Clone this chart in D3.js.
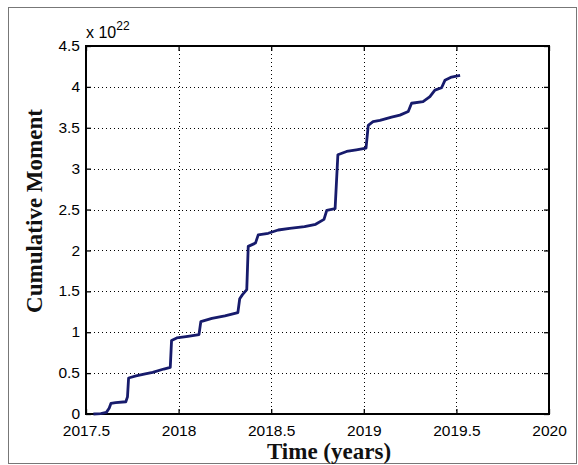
<!DOCTYPE html>
<html>
<head>
<meta charset="utf-8">
<script src="https://cdn.jsdelivr.net/npm/d3@7/dist/d3.min.js"></script>
<style>
  body { margin: 0; background: #fff; }
  .tick text { font-family: "Liberation Sans", Arial, sans-serif; font-size: 15.5px; fill: #000; }
  .label { font-family: "Liberation Serif", "Times New Roman", serif; font-weight: bold; font-size: 23px; fill: #111; }
</style>
</head>
<body>
<svg width="578" height="465"></svg>
<script>
// time (years) and cumulative moment (x 1e22)
let times = [2017.54, 2017.58, 2017.61, 2017.625, 2017.635, 2017.66, 2017.715, 2017.724, 2017.73, 2017.77,
    2017.82, 2017.86, 2017.92, 2017.955, 2017.962, 2017.99, 2018.05, 2018.11, 2018.12, 2018.18,
    2018.25, 2018.32, 2018.33, 2018.345, 2018.368, 2018.376, 2018.415, 2018.43, 2018.484, 2018.538,
    2018.6, 2018.68, 2018.74, 2018.785, 2018.80, 2018.845, 2018.86, 2018.907, 2018.96, 2019.012,
    2019.024, 2019.05, 2019.087, 2019.15, 2019.195, 2019.24, 2019.258, 2019.32, 2019.357, 2019.384,
    2019.42, 2019.438, 2019.474, 2019.52];
let moment = [0, 0.005, 0.02, 0.07, 0.13, 0.14, 0.15, 0.21, 0.44, 0.465,
    0.49, 0.51, 0.55, 0.57, 0.90, 0.93, 0.95, 0.97, 1.13, 1.17,
    1.20, 1.24, 1.41, 1.46, 1.52, 2.05, 2.09, 2.19, 2.21, 2.25,
    2.27, 2.29, 2.32, 2.38, 2.49, 2.51, 3.17, 3.21, 3.23, 3.25,
    3.53, 3.575, 3.59, 3.63, 3.655, 3.70, 3.80, 3.82, 3.88, 3.96,
    3.99, 4.08, 4.12, 4.14];
let xTicks = [2017.5, 2018, 2018.5, 2019, 2019.5, 2020];
let yTicks = [0, 0.5, 1, 1.5, 2, 2.5, 3, 3.5, 4, 4.5];

let svg = d3.select("svg");
let pLeft = 86, pTop = 46, pRight = 549, pBottom = 414;

// outer figure frame
svg.append("rect")
    .attr("x", 8.5).attr("y", 7.5)
    .attr("width", 568).attr("height", 456)
    .attr("fill", "none").attr("stroke", "#777").attr("stroke-width", 1);

let x = d3.scaleLinear().domain([2017.5, 2020]).range([pLeft, pRight]);
let y = d3.scaleLinear().domain([0, 4.5]).range([pBottom, pTop]);

// dotted grid
let grid = svg.append("g").attr("stroke", "#000").attr("stroke-width", 1)
    .attr("stroke-dasharray", "1,3");
grid.selectAll(".gx").data(xTicks.slice(1, -1)).enter().append("line")
    .attr("x1", d => Math.round(x(d)) + 0.5).attr("x2", d => Math.round(x(d)) + 0.5)
    .attr("y1", pTop).attr("y2", pBottom);
grid.selectAll(".gy").data(yTicks.slice(1, -1)).enter().append("line")
    .attr("y1", d => Math.round(y(d)) + 0.5).attr("y2", d => Math.round(y(d)) + 0.5)
    .attr("x1", pLeft).attr("x2", pRight);

// axes, ticks pointing inward
let xAxis = svg.append("g").attr("transform", `translate(0,${pBottom})`)
    .call(d3.axisBottom(x).tickValues(xTicks).tickSizeInner(-5).tickSizeOuter(0).tickFormat(d3.format("")));
let yAxis = svg.append("g").attr("transform", `translate(${pLeft},0)`)
    .call(d3.axisLeft(y).tickValues(yTicks).tickSizeInner(-5).tickSizeOuter(0).tickFormat(d3.format("")));
svg.append("g").attr("transform", `translate(0,${pTop})`)
    .call(d3.axisTop(x).tickValues(xTicks).tickSizeInner(-5).tickSizeOuter(0).tickFormat(""));
svg.append("g").attr("transform", `translate(${pRight},0)`)
    .call(d3.axisRight(y).tickValues(yTicks).tickSizeInner(-5).tickSizeOuter(0).tickFormat(""));
svg.selectAll(".domain").remove();
svg.selectAll(".tick line").attr("stroke", "#000").attr("stroke-width", 1.3);
xAxis.selectAll("text").attr("y", 22).attr("dy", null);
yAxis.selectAll("text").attr("x", -6).attr("dy", "0.3em");

// box
svg.append("rect")
    .attr("x", pLeft).attr("y", pTop)
    .attr("width", pRight - pLeft).attr("height", pBottom - pTop)
    .attr("fill", "none").attr("stroke", "#000").attr("stroke-width", 2);

// data line
let pts = times.map((t, i) => [t, moment[i]]);
svg.append("path")
    .datum(pts)
    .attr("fill", "none")
    .attr("stroke", "#171b6c")
    .attr("stroke-width", 2.8)
    .attr("stroke-linejoin", "round")
    .attr("d", d3.line().x(d => x(d[0])).y(d => y(d[1])));

// exponent label
let ex = svg.append("text")
    .attr("x", pLeft).attr("y", 38)
    .style("font-family", "Liberation Sans, Arial, sans-serif")
    .style("font-size", "16px");
ex.append("tspan").text("x 10");
ex.append("tspan").attr("dy", -8).style("font-size", "12px").text("22");

// axis titles
svg.append("text").attr("class", "label")
    .attr("x", 329).attr("y", 459)
    .attr("text-anchor", "middle")
    .text("Time (years)");
svg.append("text").attr("class", "label")
    .attr("transform", "translate(42,211) rotate(-90)")
    .attr("text-anchor", "middle")
    .text("Cumulative Moment");
</script>
</body>
</html>
